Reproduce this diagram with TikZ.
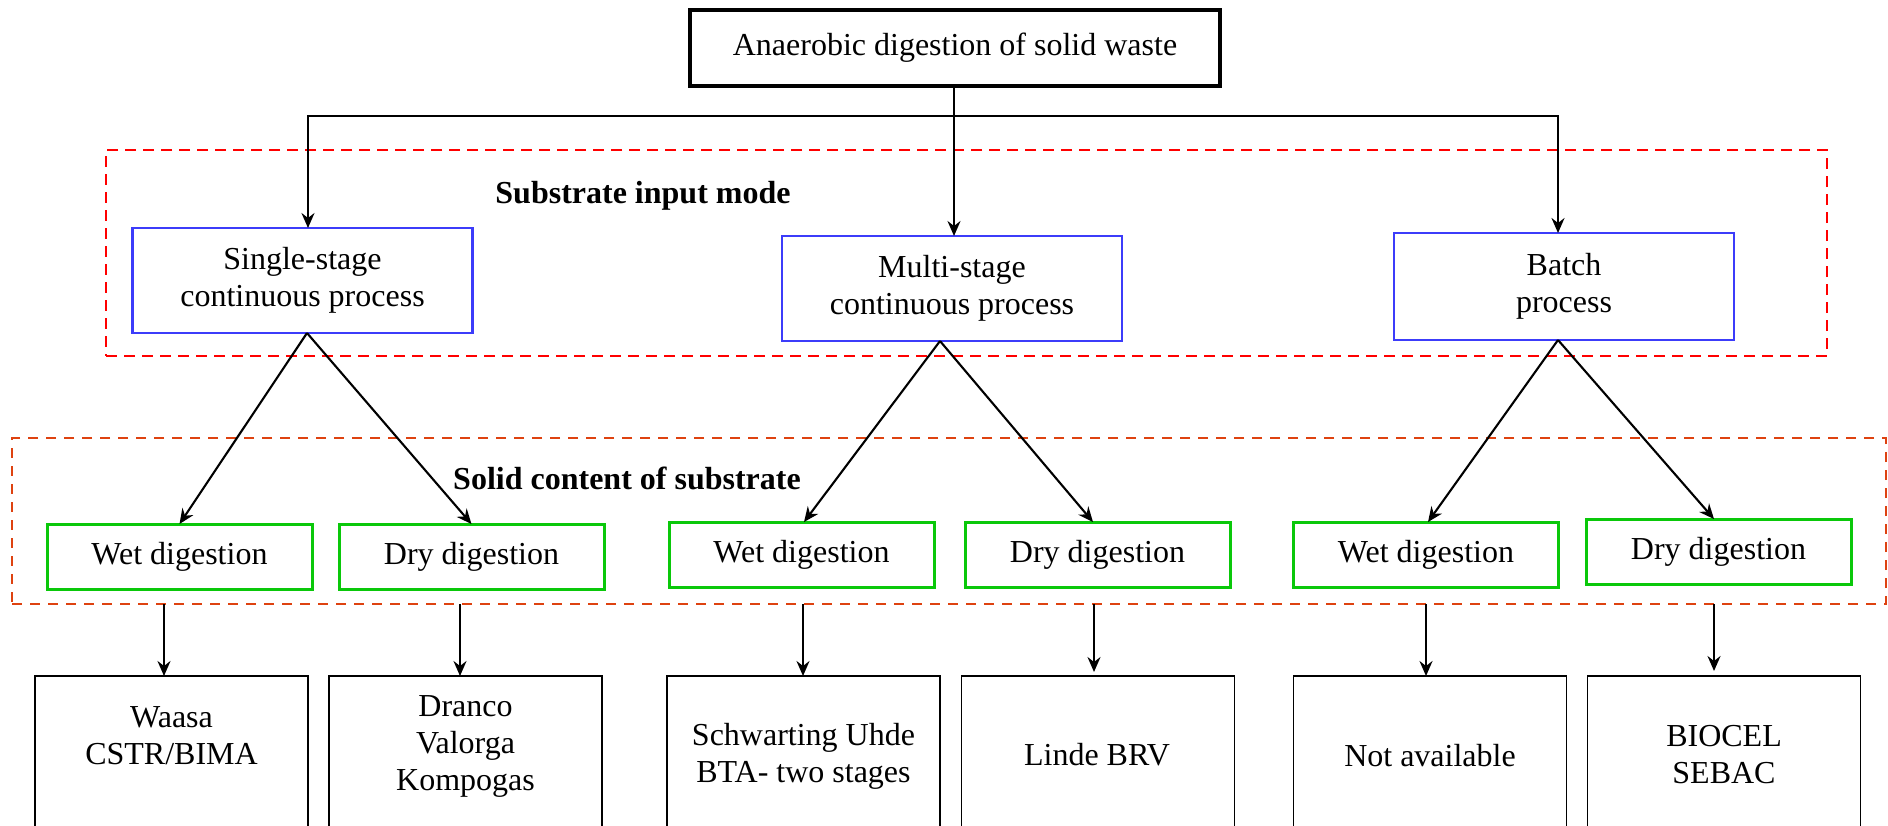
\documentclass[tikz,border=0pt]{standalone}
\usepackage{fontspec}
\setmainfont{Liberation Serif}
\usetikzlibrary{arrows.meta}
\definecolor{myblue}{RGB}{60,60,250}
\definecolor{mygreen}{RGB}{10,200,10}
\definecolor{myorange}{RGB}{222,66,16}
\newcommand{\mysize}{\fontsize{16pt}{18.5pt}\selectfont}
\tikzset{
  topbox/.style={draw=black, line width=1.7pt, minimum width=265pt, minimum height=38pt, inner sep=0pt, outer sep=0pt},
  bluebox/.style={draw=myblue, line width=1.35pt, minimum width=170pt, minimum height=52.5pt, align=center, inner sep=0pt, outer sep=0pt},
  greenbox/.style={draw=mygreen, line width=1.5pt, minimum width=132.5pt, minimum height=32.5pt, inner sep=0pt, outer sep=0pt},
  blackbox/.style={draw=black, line width=0.85pt, minimum width=136.5pt, minimum height=77pt, inner sep=0pt, outer sep=0pt},
  boxtext/.style={align=center, inner sep=0pt},
  dashred/.style={draw=red, line width=1.15pt, dash pattern=on 5.5pt off 3.5pt, inner sep=0pt, outer sep=0pt},
  dashorange/.style={draw=myorange, line width=1.15pt, dash pattern=on 5pt off 4pt, inner sep=0pt, outer sep=0pt},
  arr/.style={-{Stealth[length=7.5pt,width=6.5pt,inset=2.5pt]}, line width=1.05pt},
  conn/.style={line width=1.05pt},
  lbl/.style={font=\mysize\bfseries, inner sep=0pt},
}
\begin{document}
\begin{tikzpicture}[x=0.5pt, y=-0.5pt, font=\mysize]
\useasboundingbox (0,0) rectangle (1888,825);
\clip (0,0) rectangle (1888,825);

% group frames
\node[dashred, minimum width=860.5pt, minimum height=103pt] (R1) at (966.5,253) {};
\node[dashorange, minimum width=937pt, minimum height=83pt] (R2) at (949,521) {};

% labels of frames
\node[lbl] (L1) at (643,196) {Substrate input mode};
\node[lbl] (L2) at (627,478) {Solid content of substrate};

% root
\node[topbox] (top) at (955,48) {Anaerobic digestion of solid waste};

% substrate input mode
\node[bluebox] (S1) at (302.5,280.5) {Single-stage\\continuous process};
\node[bluebox] (S2) at (952,288.5) {Multi-stage\\continuous process};
\node[bluebox, minimum height=53.5pt] (S3) at (1564,286.5) {Batch\\process};

% solid content
\node[greenbox] (G1) at (179.5,556.5) {Wet digestion};
\node[greenbox] (G2) at (471.5,556.5) {Dry digestion};
\node[greenbox] (G3) at (801.5,554.5) {Wet digestion};
\node[greenbox] (G4) at (1097.5,554.5) {Dry digestion};
\node[greenbox] (G5) at (1426,554.5) {Wet digestion};
\node[greenbox] (G6) at (1718.5,551.5) {Dry digestion};

% examples
\node[blackbox] (B1) at (171.5,753) {};
\node[blackbox] (B2) at (465.5,753) {};
\node[blackbox] (B3) at (803.5,753) {};
\node[blackbox] (B4) at (1098,753) {};
\node[blackbox] (B5) at (1430,753) {};
\node[blackbox] (B6) at (1724,753) {};
\node[boxtext] (t1) at (171.5,736) {Waasa\\CSTR/BIMA};
\node[boxtext] (t2) at (465.5,746) {Dranco\\Valorga\\Kompogas};
\node[boxtext] (t3) at (803.5,756) {Schwarting Uhde\\BTA- two stages};
\node[boxtext] (t4) at (1097,755) {Linde BRV};
\node[boxtext] (t5) at (1430,756) {Not available};
\node[boxtext] (t6) at (1724,755) {BIOCEL\\SEBAC};

% root to modes
\coordinate (j) at (954,116);
\draw[conn] (top.south -| j) -- (j);
\draw[arr] (j) -| ([xshift=2.75pt]S1.north);
\draw[arr] (j) -- (j |- S2.north);
\draw[arr] (j) -| ([xshift=-3pt]S3.north);

% modes to solid content
\draw[arr] ([xshift=2.25pt]S1.south) -- (G1.north);
\draw[arr] ([xshift=2.25pt]S1.south) -- (G2.north);
\draw[arr] ([xshift=-6pt]S2.south) -- ([xshift=1.25pt]G3.north);
\draw[arr] ([xshift=-6pt]S2.south) -- ([xshift=-2.25pt]G4.north);
\draw[arr] ([xshift=-3pt]S3.south) -- ([xshift=1pt]G5.north);
\draw[arr] ([xshift=-3pt]S3.south) -- ([xshift=-2.25pt]G6.north);

% solid content to examples
\coordinate (a1) at (164,604);
\coordinate (a2) at (460,604);
\coordinate (a3) at (803,604);
\coordinate (a4) at (1094,604);
\coordinate (a5) at (1426,604);
\coordinate (a6) at (1714,604);
\draw[arr] (a1) -- (a1 |- B1.north);
\draw[arr] (a2) -- (a2 |- B2.north);
\draw[arr] (a3) -- (a3 |- B3.north);
\draw[arr] (a4) -- ([yshift=2pt]a4 |- B4.north);
\draw[arr] (a5) -- (a5 |- B5.north);
\draw[arr] (a6) -- ([yshift=2.5pt]a6 |- B6.north);
\end{tikzpicture}
\end{document}
